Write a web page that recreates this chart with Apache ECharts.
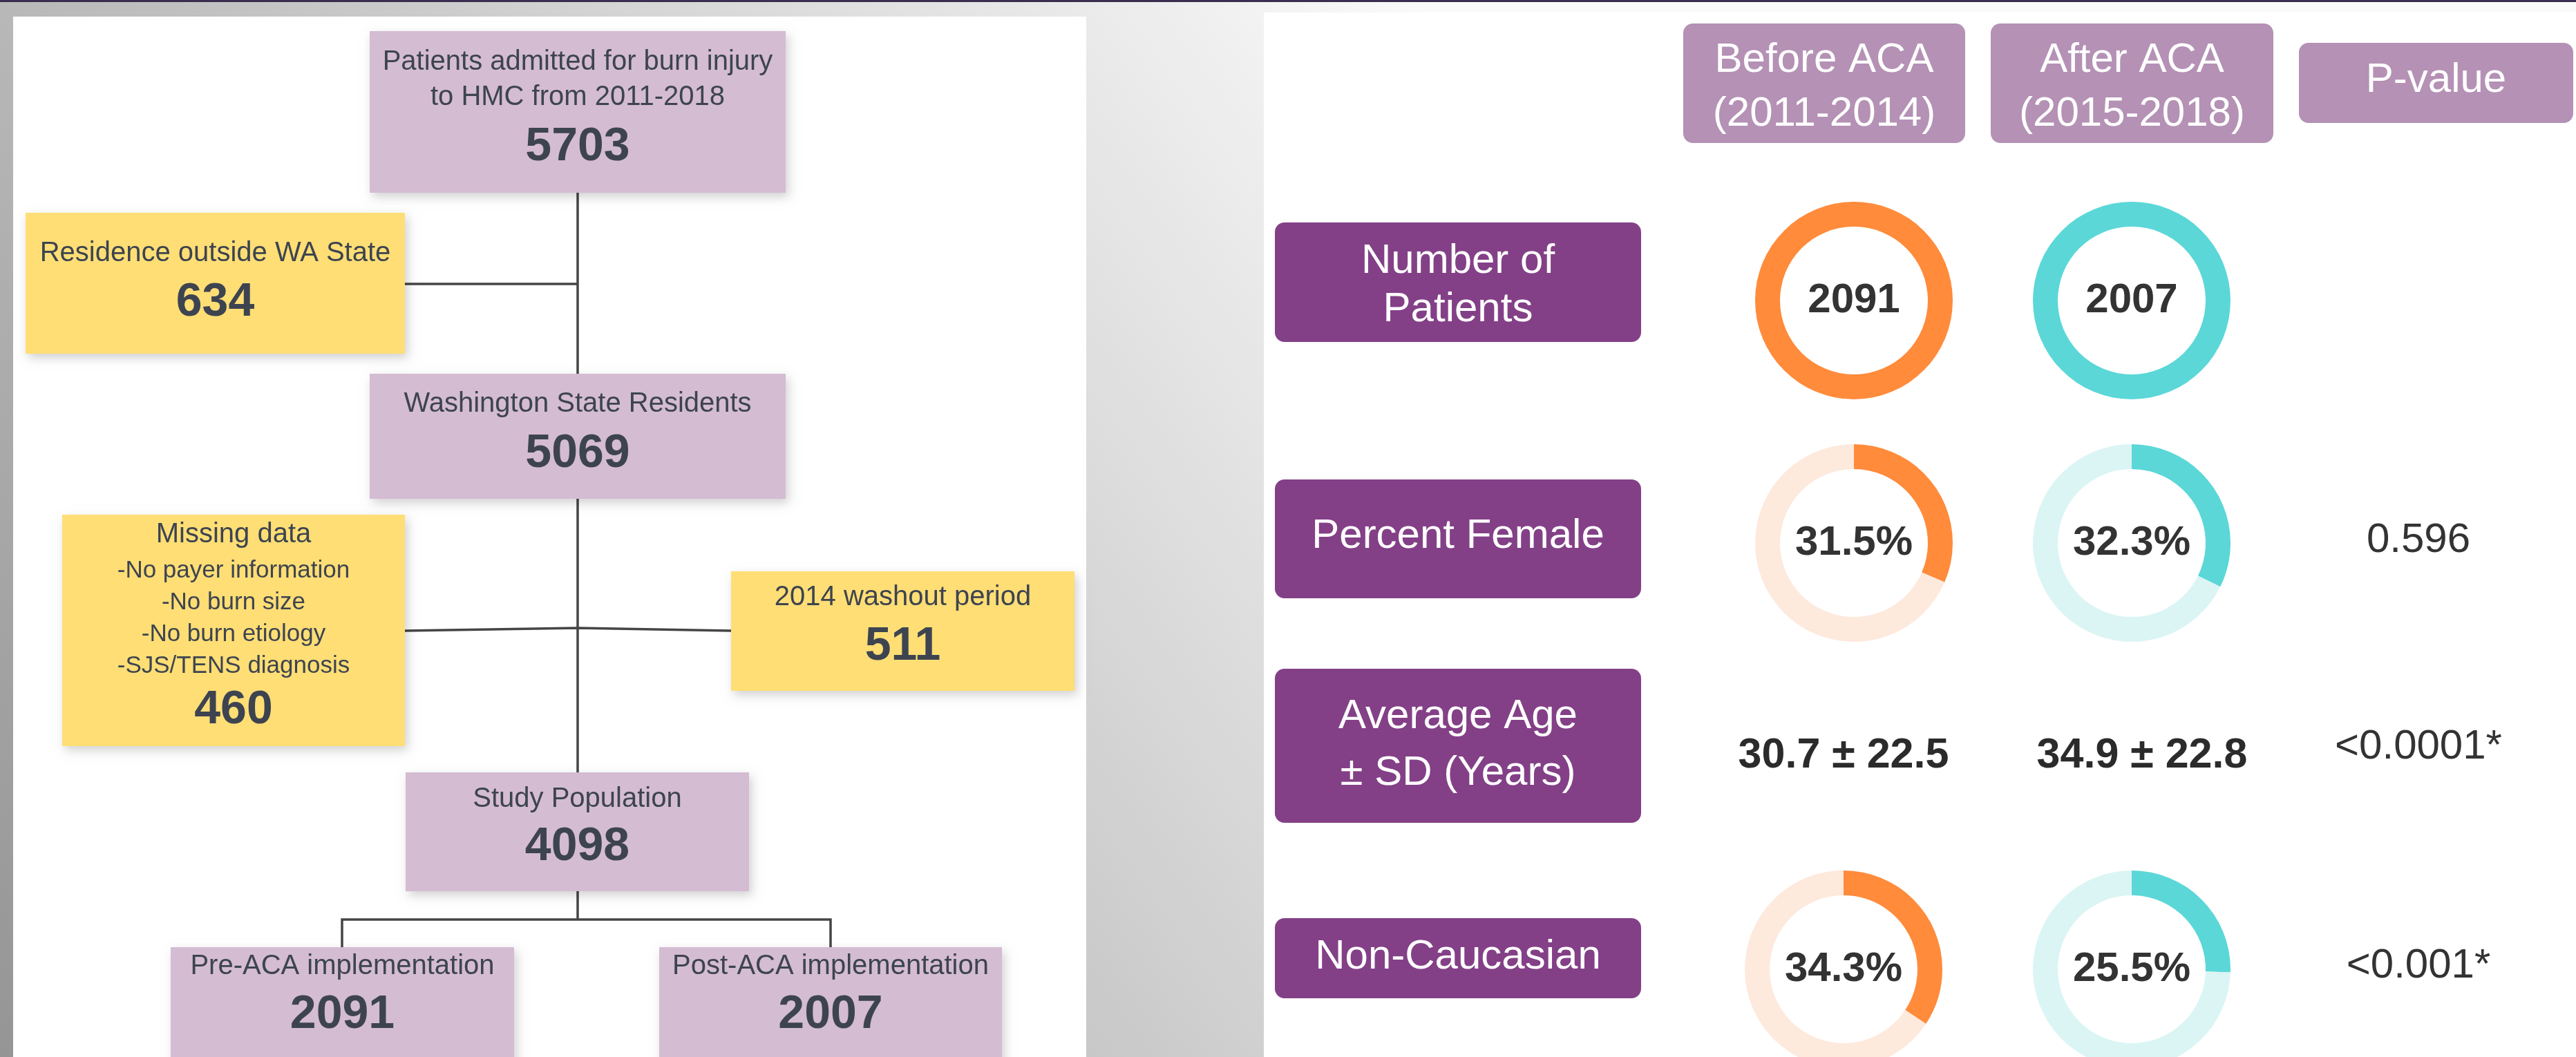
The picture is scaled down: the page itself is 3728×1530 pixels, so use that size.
<!DOCTYPE html>
<html>
<head>
<meta charset="utf-8">
<title>Burn patients before and after ACA</title>
<script src="https://cdn.jsdelivr.net/npm/echarts@6/dist/echarts.min.js"></script>
<style>
html, body { margin: 0; padding: 0; }
#chart { width: 3728px; height: 1530px; }
</style>
</head>
<body>
<div id="chart"></div>
<script>
// ---- flowchart data ----
var flowTitles = [
  ['Patients admitted for burn injury', 'to HMC from 2011-2018'],
  ['Residence outside WA State'],
  ['Washington State Residents'],
  ['Missing data', '-No payer information', '-No burn size', '-No burn etiology', '-SJS/TENS diagnosis'],
  ['2014 washout period'],
  ['Study Population'],
  ['Pre-ACA implementation'],
  ['Post-ACA implementation']
];
var flowCounts = [5703, 634, 5069, 460, 511, 4098, 2091, 2007];
var flowKinds = ['step', 'excluded', 'step', 'excluded', 'excluded', 'step', 'step', 'step'];

// ---- table data ----
var columnHeaders = [['Before ACA', '(2011-2014)'], ['After ACA', '(2015-2018)'], ['P-value']];
var rowLabels = [['Number of', 'Patients'], ['Percent Female'], ['Average Age', '± SD (Years)'], ['Non-Caucasian']];
var patientCounts = [2091, 2007];
var percentFemale = [31.5, 32.3];
var ageMean = [30.7, 34.9];
var ageSd = [22.5, 22.8];
var percentNonCaucasian = [34.3, 25.5];
var pValues = ['', '0.596', '<0.0001*', '<0.001*'];

// ---- layout (pixels) ----
var flowBoxes = [
  [535, 45, 602, 234], [37, 308, 549, 204], [535, 541, 602, 181], [90, 745, 496, 335],
  [1058, 827, 497, 173], [587, 1118, 497, 172], [247, 1371, 497, 172], [954, 1371, 496, 172]
];
var flowLineY = [[87, 138], [364], [582], [771, 823, 869, 915, 961], [862], [1154], [1396], [1396]];
var flowCountY = [206, 431, 650, 1021, 929, 1219, 1462, 1462];
var connectors = [
  [[836, 279], [836, 1118]],
  [[586, 411], [836, 411]],
  [[586, 913], [836, 909], [1058, 913]],
  [[836, 1290], [836, 1331]],
  [[495, 1373], [495, 1331], [1202, 1331], [1202, 1373]]
];
var headerBoxes = [[2436, 34, 408, 173], [2881, 34, 409, 173], [3327, 62, 397, 116]];
var headerLineY = [[82, 160], [82, 160], [111]];
var rowBoxes = [[1845, 322, 530, 173], [1845, 694, 530, 172], [1845, 968, 530, 223], [1845, 1329, 530, 116]];
var rowLineY = [[373, 443], [771], [1032, 1114], [1380]];
var colX = [2683, 3085, 3500];
var ageX = [2668, 3100];
var rowY = [435, 786, 1088, 1403];

var FONT = '"Liberation Sans", Arial, sans-serif';
var ORANGE = '#ff8b3b', ORANGE_LIGHT = '#fee9dd';
var CYAN = '#5bd7d8', CYAN_LIGHT = '#dbf5f4';

// canvas 'middle' sits a little high for these fonts, so nudge down by size
function txt(text, x, y, size, color, bold) {
  var dy = bold ? Math.round(size * 0.1) : Math.round(size * 0.08);
  return {
    type: 'text', x: x, y: y + dy, silent: true, z: 20,
    style: {
      text: text, fill: color,
      font: (bold ? 'bold ' : '') + size + 'px ' + FONT,
      textAlign: 'center', textVerticalAlign: 'middle',
      align: 'center', verticalAlign: 'middle'
    }
  };
}

function box(b, fill, r, shadow) {
  var style = { fill: fill };
  if (shadow) {
    style.shadowBlur = 14;
    style.shadowColor = 'rgba(0,0,0,0.18)';
    style.shadowOffsetX = 4;
    style.shadowOffsetY = 6;
  }
  return { type: 'rect', silent: true, z: 10, shape: { x: b[0], y: b[1], width: b[2], height: b[3], r: r || 0 }, style: style };
}

var elements = [];
// background
elements.push({
  type: 'rect', silent: true, z: 0,
  shape: { x: 0, y: 0, width: 3728, height: 1530 },
  style: { fill: new echarts.graphic.LinearGradient(0, 1530, 2083, 48, [
    { offset: 0, color: '#959595' }, { offset: 1, color: '#fafafa' }
  ], true) }
});
elements.push({ type: 'rect', silent: true, z: 1, shape: { x: 0, y: 0, width: 3728, height: 3 }, style: { fill: '#3b2d4f' } });
elements.push({ type: 'rect', silent: true, z: 1, shape: { x: 19, y: 24, width: 1553, height: 1506 }, style: { fill: '#ffffff' } });
elements.push({ type: 'rect', silent: true, z: 1, shape: { x: 1829, y: 18, width: 1899, height: 1512 }, style: { fill: '#ffffff' } });

// flowchart connectors
connectors.forEach(function (pts) {
  elements.push({ type: 'polyline', silent: true, z: 5, shape: { points: pts }, style: { stroke: '#454545', lineWidth: 3.5, fill: null } });
});

// flowchart boxes
flowBoxes.forEach(function (b, i) {
  elements.push(box(b, flowKinds[i] === 'step' ? '#d4bcd3' : '#ffde75', 0, true));
  var cx = b[0] + b[2] / 2;
  flowTitles[i].forEach(function (line, j) {
    var size = (i === 3 && j > 0) ? 35 : 40;
    elements.push(txt(line, cx, flowLineY[i][j], size, '#3d4450', false));
  });
  elements.push(txt(String(flowCounts[i]), cx, flowCountY[i], 68, '#3d4450', true));
});

// table headers and row labels
headerBoxes.forEach(function (b, i) {
  elements.push(box(b, '#b491b5', 14, false));
  columnHeaders[i].forEach(function (line, j) {
    elements.push(txt(line, b[0] + b[2] / 2, headerLineY[i][j], 60, '#ffffff', false));
  });
});
rowBoxes.forEach(function (b, i) {
  elements.push(box(b, '#834087', 14, false));
  rowLabels[i].forEach(function (line, j) {
    elements.push(txt(line, b[0] + b[2] / 2, rowLineY[i][j], 60, '#ffffff', false));
  });
});

// age row and p-values
for (var k = 0; k < 2; k++) {
  elements.push(txt(ageMean[k].toFixed(1) + ' ± ' + ageSd[k].toFixed(1), ageX[k], rowY[2], 61, '#2b2b2b', true));
}
var pY = [0, 777, 1076, 1393];
pValues.forEach(function (p, i) {
  if (p) elements.push(txt(p, colX[2], pY[i], 60, '#333333', false));
});

// ---- donuts ----
function donut(center, value, total, color, light, suffix) {
  var data = [{
    value: value,
    itemStyle: { color: color },
    label: { show: true, position: 'center', formatter: '{c}' + suffix, fontSize: 60, fontWeight: 'bold', color: '#333333', fontFamily: FONT }
  }];
  if (total > value) data.push({ value: +(total - value).toFixed(1), itemStyle: { color: light }, label: { show: false } });
  return {
    type: 'pie', silent: true, z: 15,
    center: center, radius: [107, 143],
    startAngle: 90, clockwise: true,
    avoidLabelOverlap: false,
    labelLine: { show: false },
    emphasis: { disabled: true },
    animation: false,
    data: data
  };
}

var series = [
  donut([colX[0], rowY[0]], patientCounts[0], patientCounts[0], ORANGE, ORANGE_LIGHT, ''),
  donut([colX[1], rowY[0]], patientCounts[1], patientCounts[1], CYAN, CYAN_LIGHT, ''),
  donut([colX[0], rowY[1]], percentFemale[0], 100, ORANGE, ORANGE_LIGHT, '%'),
  donut([colX[1], rowY[1]], percentFemale[1], 100, CYAN, CYAN_LIGHT, '%'),
  donut([colX[0] - 15, rowY[3]], percentNonCaucasian[0], 100, ORANGE, ORANGE_LIGHT, '%'),
  donut([colX[1], rowY[3]], percentNonCaucasian[1], 100, CYAN, CYAN_LIGHT, '%')
];

var chart = echarts.init(document.getElementById('chart'), null, { renderer: 'canvas' });
chart.setOption({
  animation: false,
  graphic: { elements: elements },
  series: series
});
</script>
</body>
</html>
